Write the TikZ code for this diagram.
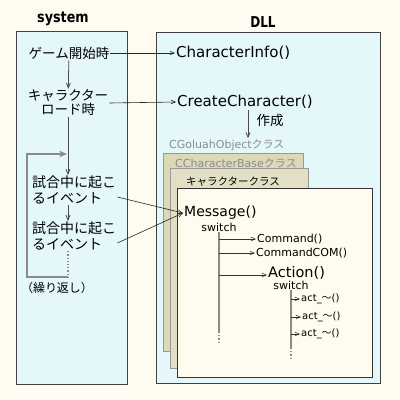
\documentclass[tikz,border=0pt]{standalone}
\usepackage{fontspec}
\setmainfont{DejaVu Sans}
\newfontfamily\jp{Noto Sans CJK JP}
\usetikzlibrary{arrows}
\definecolor{paper}{HTML}{FFFBF0}
\definecolor{panelfill}{HTML}{E4F8FC}
\definecolor{tana}{HTML}{DCD8B8}
\definecolor{tanb}{HTML}{E3DFC4}
\definecolor{cream}{HTML}{FFFBEE}
\definecolor{lblgray}{HTML}{8C8C8C}
\definecolor{trunkgray}{HTML}{8A8A8A}
\newcommand\fsz[1]{\fontsize{#1}{#1}\selectfont}

\begin{document}
\begin{tikzpicture}[x=1pt,y=-1pt,>=angle 45,
    panel/.style={draw=black!75,fill=panelfill,line width=0.8pt},
    classa/.style={draw=black!40,fill=tana,line width=0.8pt},
    classb/.style={draw=black!40,fill=tanb,line width=0.8pt},
    classc/.style={draw=black!80,fill=cream,line width=0.8pt},
    title/.style={font=\bfseries\fsz{15},inner sep=1pt},
    jtxt/.style={font={\jp\fontsize{13.5}{14}\selectfont},inner sep=1pt},
    evtxt/.style={font={\jp\fontsize{14}{15.5}\selectfont},inner sep=1pt,align=left,anchor=west},
    fn/.style={font=\fsz{15},inner sep=1pt,anchor=west},
    msgtxt/.style={font=\fsz{14},inner sep=1pt,anchor=west},
    acttxt/.style={font=\fsz{14.5},inner sep=1pt,anchor=west},
    cmdtxt/.style={font=\fsz{11},inner sep=1pt,anchor=west},
    swtxt/.style={font=\fsz{11},inner sep=1pt},
    subtxt/.style={font=\fsz{10},inner sep=1pt,anchor=west},
    clslbl/.style={font=\fsz{11},text=lblgray,inner sep=1pt,anchor=west},
    flow/.style={draw=black!70,line width=0.8pt},
    loopline/.style={draw=trunkgray,line width=1.2pt},
    link/.style={draw=black!85,line width=0.6pt},
    trunk/.style={draw=trunkgray,line width=1.6pt},
    branch/.style={draw=black!80,line width=0.6pt}]

  \useasboundingbox (0,0) rectangle (400,400);
  \fill[paper] (0,0) rectangle (400,400);

  \node[title] (systitle) at (63,19) {\scalebox{0.85}[1]{system}};
  \node[title] (dlltitle) at (263,22) {\scalebox{0.8}[1]{DLL}};
  \draw[panel] (16,31) rectangle (127,384);
  \draw[panel] (156,32) rectangle (380,383);

  \draw[classa] (163,153) rectangle (303,351);
  \draw[classb] (170,168) rectangle (308,368);
  \draw[classc] (177,188) rectangle (372,377);

  \node[jtxt] (start) at (69,53) {ゲーム開始時};
  \node[jtxt,align=center] (load) at (68,103) {キャラクター\\ロード時};
  \node[evtxt] (ev1) at (31,190) {試合中に起こ\\るイベント};
  \node[evtxt] (ev2) at (31,236) {試合中に起こ\\るイベント};
  \node[jtxt,font={\jp\fsz{12}}] (again) at (57,288) {（繰り返し）};

  \coordinate (lpb) at (68,277);
  \coordinate (lpl) at (27,277);
  \coordinate (lpt) at (27,154);
  \coordinate (lpr) at (67,154);

  \draw[flow,->] (start) -- (load);
  \draw[flow,->] (load.south) -- (load.south |- ev1.north);
  \draw[flow,->] (ev1.south -| load.south) -- (ev2.north -| load.south);
  \draw[loopline,dotted] (ev2.south -| load.south) -- (lpb);
  \draw[loopline,->] (lpb) -- (lpl) -- (lpt) -- (lpr);

  \node[fn] (info) at (175,53) {CharacterInfo()};
  \node[fn] (create) at (176,102) {CreateCharacter()};
  \node[clslbl] (objlbl) at (168,145) {CGoluahObject{\jp クラス}};
  \node[clslbl] (baselbl) at (174,163) {CCharacterBase{\jp クラス}};
  \node[jtxt,font={\jp\fsz{10.5}}] (charlbl) at (233,182) {キャラクタークラス};
  \node[jtxt] (make) at (270,120) {作成};

  \draw[flow,->] ([xshift=3pt]create.south) -- ([xshift=3pt]create.south |- objlbl.north);

  \node[msgtxt] (msg) at (183,213) {Message()};
  \node[swtxt] (sw1) at (219,227) {switch};
  \node[cmdtxt] (cmd) at (256,239) {Command()};
  \node[cmdtxt] (cmdcom) at (255,253) {CommandCOM()};
  \node[acttxt] (act) at (267,273) {Action()};
  \node[swtxt] (sw2) at (291,285) {switch};
  \node[subtxt] (acta) at (300,299) {act\_{\jp ～}()};
  \node[subtxt] (actb) at (301,317) {act\_{\jp ～}()};
  \node[subtxt] (actc) at (300,334) {act\_{\jp ～}()};

  \coordinate (tonend) at (219,331);
  \coordinate (tondot) at (219,345);
  \coordinate (ttwoend) at (291,347);
  \coordinate (ttwodot) at (291,361);

  \draw[trunk] (sw1.south) -- (tonend);
  \draw[trunk,dotted] (tonend) -- (tondot);
  \draw[trunk] (sw2.south) -- (ttwoend);
  \draw[trunk,dotted] (ttwoend) -- (ttwodot);

  \draw[branch,->] (sw1.south |- cmd.west) -- (cmd.west);
  \draw[branch,->] (sw1.south |- cmdcom.west) -- (cmdcom.west);
  \draw[branch,->] ([yshift=-2pt]sw1.south |- act.west) -- ([yshift=-2pt]act.west);
  \draw[branch,->] (sw2.south |- acta.west) -- (acta.west);
  \draw[branch,->] (sw2.south |- actb.west) -- (actb.west);
  \draw[branch,->] (sw2.south |- actc.west) -- (actc.west);

  \draw[link,->] (start.east) -- (info.west);
  \draw[link,->] (load.east) -- (create.west);
  \draw[link,->] ([yshift=-7pt]ev1.east) -- (msg.west);
  \draw[link,->] ([yshift=-7pt]ev2.east) -- (msg.west);
\end{tikzpicture}
\end{document}
